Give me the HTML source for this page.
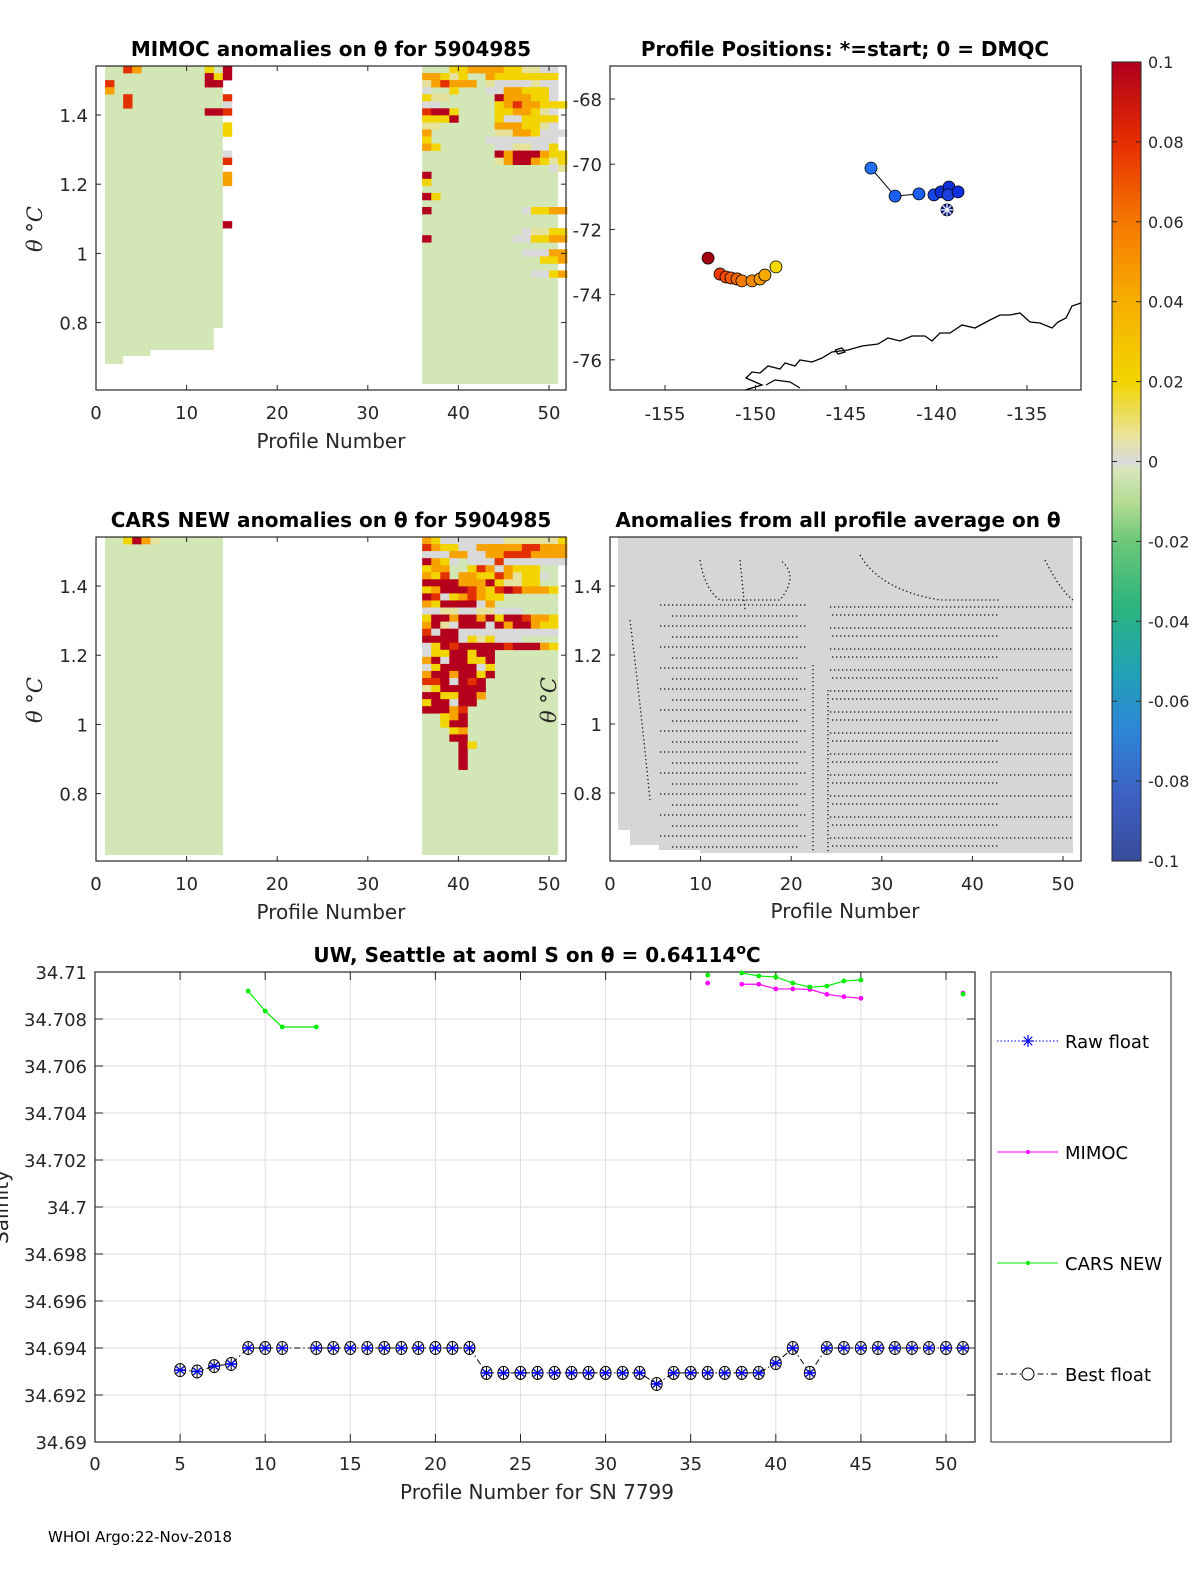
<!DOCTYPE html>
<html><head><meta charset="utf-8"><style>
body{margin:0;background:#fff;}
svg{display:block;font-family:"DejaVu Sans","Liberation Sans",sans-serif;}
.t{font-weight:bold;font-size:20px;}
.tk{font-size:18px;fill:#262626;}
</style></head><body>
<svg id="fig" width="1200" height="1575" viewBox="0 0 1200 1575" xmlns="http://www.w3.org/2000/svg">
<rect width="1200" height="1575" fill="#fff"/>
<g id="p1"></g>
<g id="p2"></g>
<g id="p3"></g>
<g id="p4"></g>
<g id="cb"></g>
<g id="p5"></g>
<text x="48" y="1542" font-size="15">WHOI Argo:22-Nov-2018</text>
</svg>
<script>
// ---------- data ----------
const profilesBest=[5,6,7,8,9,10,11,13,14,15,16,17,18,19,20,21,22,23,24,25,26,27,28,29,30,31,32,33,34,35,36,37,38,39,40,41,42,43,44,45,46,47,48,49,50,51];
const salBest=[34.69306,34.6930,34.69323,34.69332,34.694,34.694,34.694,34.694,34.694,34.694,34.694,34.694,34.694,34.694,34.694,34.694,34.694,34.69294,34.69294,34.69294,34.69294,34.69294,34.69294,34.69294,34.69294,34.69294,34.69294,34.69247,34.69294,34.69294,34.69294,34.69294,34.69294,34.69294,34.69336,34.694,34.69294,34.694,34.694,34.694,34.694,34.694,34.694,34.694,34.694,34.694];
const carsSeg1P=[9,10,11,13];
const carsSeg1V=[34.70919,34.70834,34.70766,34.70766];
const carsSeg2P=[38,39,40,41,42,43,44,45];
const carsSeg2V=[34.70996,34.70983,34.70979,34.70953,34.70936,34.7094,34.70962,34.70966];
const carsDotP=[36,51];
const carsDotV=[34.70987,34.70906];
const mimSegP=[38,39,40,41,42,43,44,45];
const mimSegV=[34.70948,34.70948,34.70928,34.70928,34.70926,34.70905,34.70895,34.70888];
const mimDotP=[36,51];
const mimDotV=[34.70953,34.70910];
const salTicks=[34.69,34.692,34.694,34.696,34.698,34.7,34.702,34.704,34.706,34.708,34.71];
const salTickLabels=["34.69","34.692","34.694","34.696","34.698","34.7","34.702","34.704","34.706","34.708","34.71"];
const profTicks=[0,5,10,15,20,25,30,35,40,45,50];
const panelXTicks=[0,10,20,30,40,50];
const thetaTicks=[0.8,1,1.2,1.4];
const thetaTickLabels=["0.8","1","1.2","1.4"];
const lonTicks=[-155,-150,-145,-140,-135];
const latTicks=[-68,-70,-72,-74,-76];
const mapLon=[-143.62,-142.29,-140.97,-140.14,-139.75,-139.31,-139.36,-138.81,-152.62,-151.96,-151.63,-151.35,-151.02,-150.75,-150.19,-149.75,-149.48,-148.87];
const mapLat=[-70.12,-70.98,-70.91,-70.94,-70.85,-70.70,-70.94,-70.85,-72.88,-73.37,-73.46,-73.49,-73.52,-73.58,-73.58,-73.52,-73.40,-73.15];
const mapCol=["#1f6ff0","#1a5ff0","#1a5ff0","#1648e8","#1030d8","#1030d8","#1a40e0","#1030e0","#a50010","#f03a00","#f54800","#f55a00","#f76800","#f77a00","#f78a00","#f79a00","#f7aa00","#f7d800"];
const startLon=-139.42, startLat=-71.40;
const cbTicks=[0.1,0.08,0.06,0.04,0.02,0,-0.02,-0.04,-0.06,-0.08,-0.1];
const cbLabels=["0.1","0.08","0.06","0.04","0.02","0","-0.02","-0.04","-0.06","-0.08","-0.1"];
const mimRows=["...yyooooyyeegg.","ooyey..oyyyyyyy.","eorooo.eggggegg.","g..y...ggooyyyg.","yee.....doooyyg.","gg......yorooyyy","rddy....yyooyeg.","yyyd....yggyyyy.","ee......oooyyeg.","o.......eeooyggg","y......gggggggg.","oy......ggeeggy.","........dodddoyy","........eoddoyey","..............ge","d...............","y...............","................","dy..............","................","d..........gyyoo","................","................","...........geeyy","d.........ggyyoo","................","...........gggoo",".............yyo","................","............ggyo"];
const mimLeft=[[3,0,'r'],[4,0,'o'],[12,0,'y'],[14,0,'d'],[12,1,'d'],[13,1,'y'],[14,1,'d'],[12,2,'d'],[13,2,'d'],[1,2,'r'],[1,3,'o'],[3,4,'r'],[3,5,'r'],[14,4,'r'],[14,5,'g'],[12,6,'d'],[13,6,'d'],[14,6,'r'],[14,8,'y'],[14,9,'y'],[14,12,'g'],[14,13,'r'],[14,15,'o'],[14,16,'o'],[14,22,'d']];
const carsRows=["oygggggggeeeeeey","royyggooooorrooo","gggooggoorrroooo","doyg.gggrggggggg","yoo..yrogoyyy...","oyr.ooyyroeyyg..","ddddooodyeeyy...","yodddroyrdroooy.","drgyoroyy.......","oyddddgo........","ggeeggeeggg.....","yddoddodyddrooy.","odegdddgdoddoyy.","rgddggggggggggg.","ddddgyeyggg.....","gydrdddddrdddoy.","gyyddydd........","odgddyyd........","gyddddgy........","oddoddyd........","rrdgdrd.........","eyddddd.........","ddyyddo.........","yddgdd..........","dddor...........","..yod...........","..ydd...........","...yo...........","...dd...........","....dy..........","....d...........","....d...........","....d..........."];
const carsLeft=[[3,0,'y'],[4,0,'d'],[5,0,'o'],[6,0,'e']];
const CMAP={y:"#f2d400",o:"#f7a200",r:"#e23000",d:"#b4001c",e:"#e6e29c",g:"#d9d9d9"};

const NS="http://www.w3.org/2000/svg";
function mk(parent,tag,attrs,txt){const e=document.createElementNS(NS,tag);for(const k in attrs)e.setAttribute(k,attrs[k]);if(txt!==undefined)e.textContent=txt;parent.appendChild(e);return e;}

function anomPanel(g,top,rows,left,title,leftBottom,rightBottom){
  const x0=96,x1=566,y0=top,y1=top+324;
  const xs=p=>96+p*9.06;
  const ty=t=>top+49-(t-1.4)*346;
  const cw=9.06,ch=7.05;
  const lb=mk(g,'polygon',{points:`${xs(1)},${y0} ${xs(14)},${y0} ${xs(14)},${leftBottom[0]} ${xs(13)},${leftBottom[0]} ${xs(13)},${leftBottom[1]} ${xs(6)},${leftBottom[1]} ${xs(6)},${leftBottom[2]} ${xs(3)},${leftBottom[2]} ${xs(3)},${leftBottom[3]} ${xs(1)},${leftBottom[3]}`,fill:"#d3e6b6"});
  
  
  const rb=mk(g,'rect',{x:xs(36),y:y0,width:xs(51)-xs(36),height:rightBottom-y0,fill:"#d3e6b6"});
  
  
  rows.forEach((row,i)=>{for(let j=0;j<row.length;j++){const c=row[j];if(c==='.')continue;
    const r=mk(g,'rect',{x:xs(36+j),y:y0+i*ch,width:cw+0.3,height:ch+0.3,fill:CMAP[c]});
    
    }});
  left.forEach(([p,i,c])=>{const r=mk(g,'rect',{x:xs(p),y:y0+i*ch,width:cw+0.3,height:ch+0.3,fill:CMAP[c]});
    
    });
  mk(g,'rect',{x:x0,y:y0,width:x1-x0,height:y1-y0,fill:"none",stroke:"#262626","stroke-width":1.2});
  panelXTicks.forEach(v=>{const x=xs(v);mk(g,'line',{x1:x,x2:x,y1:y1,y2:y1-5,stroke:"#262626"});mk(g,'line',{x1:x,x2:x,y1:y0,y2:y0+5,stroke:"#262626"});
    mk(g,'text',{x:x,y:y1+29,"text-anchor":"middle",class:"tk"},String(v));});
  thetaTicks.forEach((v,i)=>{const y=ty(v);mk(g,'line',{x1:x0,x2:x0+5,y1:y,y2:y,stroke:"#262626"});mk(g,'line',{x1:x1,x2:x1-5,y1:y,y2:y,stroke:"#262626"});
    mk(g,'text',{x:x0-8,y:y+7,"text-anchor":"end",class:"tk"},thetaTickLabels[i]);});
  const tt=mk(g,'text',{x:331,y:top-10,"text-anchor":"middle",class:"t"},title);
  
  
  const xl=mk(g,'text',{x:331,y:y1+58,"text-anchor":"middle","font-size":"20",fill:"#262626"},"Profile Number");
  
  
  const yl=mk(g,'text',{transform:`translate(42,${top+163}) rotate(-90)`,"text-anchor":"middle","font-size":"21","font-family":"DejaVu Serif","font-style":"italic",fill:"#262626"},"θ °C");
  
  
}
anomPanel(document.getElementById('p1'),66,mimRows,mimLeft,"MIMOC anomalies on θ  for 5904985",[328,350,356,364],384);
anomPanel(document.getElementById('p3'),537,carsRows,carsLeft,"CARS NEW anomalies on θ for 5904985",[855,855,855,855],855);

(function(){
  const g=document.getElementById('p2');
  const X=l=>665+(l+155)*18.1, Y=l=>99-(l+68)*32.6;
  const x0=610,x1=1081,y0=66,y1=390;
  mk(g,'polyline',{points:"1081,303 1072,306 1066,318 1058,322 1052,328 1040,323 1030,322 1020,313 1010,315 1000,315 990,320 975,328 962,325 950,333 940,333 932,341 925,336 912,336 900,341 888,338 878,344 862,346 848,350 832,352 822,358 812,362 800,360 795,366 785,363 780,369 768,366 760,373 752,372 746,378 762,385 745,390",fill:"none",stroke:"#000","stroke-width":1.3});
  mk(g,'polyline',{points:"835,350 842,348 845,352 838,354 835,350",fill:"none",stroke:"#000","stroke-width":1.2});
  mk(g,'polyline',{points:"766,385 775,380 790,382 800,388",fill:"none",stroke:"#000","stroke-width":1.2});
  mk(g,'polyline',{points:mapLon.slice(0,3).map((l,i)=>X(l)+','+Y(mapLat[i])).join(' '),fill:"none",stroke:"#000","stroke-width":1});
  mapLon.forEach((l,i)=>{const c=mk(g,'circle',{cx:X(l),cy:Y(mapLat[i]),r:6,fill:mapCol[i],stroke:"#000","stroke-width":0.8});
    
    });
  const sx=X(startLon),sy=Y(startLat);
  mk(g,'circle',{cx:sx,cy:sy,r:6,fill:"#0a1f90",stroke:"#000","stroke-width":0.8});
  for(let a=0;a<4;a++){const an=a*Math.PI/4;mk(g,'line',{x1:sx-6*Math.cos(an),y1:sy-6*Math.sin(an),x2:sx+6*Math.cos(an),y2:sy+6*Math.sin(an),stroke:"#fff","stroke-width":1.2});}
  mk(g,'rect',{x:x0,y:y0,width:x1-x0,height:y1-y0,fill:"none",stroke:"#262626","stroke-width":1.2});
  lonTicks.forEach(v=>{const x=X(v);mk(g,'line',{x1:x,x2:x,y1:y1,y2:y1-5,stroke:"#262626"});mk(g,'text',{x:x,y:y1+30,"text-anchor":"middle",class:"tk"},String(v));});
  latTicks.forEach(v=>{const y=Y(v);mk(g,'line',{x1:x0,x2:x0+5,y1:y,y2:y,stroke:"#262626"});mk(g,'text',{x:x0-8,y:y+7,"text-anchor":"end",class:"tk"},String(v));});
  const t=mk(g,'text',{x:845,y:56,"text-anchor":"middle",class:"t"},"Profile Positions: *=start; 0 = DMQC");
  
  
})();

(function(){
  const g=document.getElementById('p4');
  const x0=610,x1=1081,y0=537,y1=861;
  const xs=p=>610+p*9.06;
  mk(g,'polygon',{points:"618,537 1073,537 1073,853 700,853 700,850 659,850 659,845 630,845 630,830 618,830",fill:"#d6d6d6"});
  for(let y=605;y<=852;y+=21){
    mk(g,'line',{x1:660,x2:808,y1:y,y2:y,stroke:"#111","stroke-width":1.3,"stroke-dasharray":"1.3 2.7"});
    mk(g,'line',{x1:830,x2:1073,y1:y+2,y2:y+2,stroke:"#111","stroke-width":1.3,"stroke-dasharray":"1.3 2.7"});
    mk(g,'line',{x1:832,x2:1000,y1:y+10,y2:y+10,stroke:"#111","stroke-width":1.3,"stroke-dasharray":"1.3 2.7"});
    mk(g,'line',{x1:672,x2:800,y1:y+11,y2:y+11,stroke:"#111","stroke-width":1.3,"stroke-dasharray":"1.3 2.7"});
  }
  mk(g,'line',{x1:813,x2:813,y1:665,y2:853,stroke:"#111","stroke-width":1.3,"stroke-dasharray":"1.3 2.7"});
  mk(g,'line',{x1:828,x2:828,y1:690,y2:853,stroke:"#111","stroke-width":1.3,"stroke-dasharray":"1.3 2.7"});
  mk(g,'path',{d:"M700,560 Q705,590 720,600 L780,600 Q800,575 780,560 M740,560 L745,610 M860,555 Q880,590 940,600 L1000,600 M1045,560 Q1060,590 1073,600 M630,620 Q640,700 650,800",fill:"none",stroke:"#111","stroke-width":1.3,"stroke-dasharray":"1.3 2.7"});
  mk(g,'rect',{x:x0,y:y0,width:x1-x0,height:y1-y0,fill:"none",stroke:"#262626","stroke-width":1.2});
  panelXTicks.forEach(v=>{const x=xs(v);mk(g,'line',{x1:x,x2:x,y1:y1,y2:y1-5,stroke:"#262626"});mk(g,'text',{x:x,y:y1+29,"text-anchor":"middle",class:"tk"},String(v));});
  thetaTicks.forEach((v,i)=>{const y=586-(v-1.4)*345;mk(g,'line',{x1:x0,x2:x0+5,y1:y,y2:y,stroke:"#262626"});mk(g,'text',{x:x0-8,y:y+7,"text-anchor":"end",class:"tk"},thetaTickLabels[i]);});
  const t=mk(g,'text',{x:838,y:527,"text-anchor":"middle",class:"t"},"Anomalies from all profile average on θ");
  
  
  mk(g,'text',{x:845,y:918,"text-anchor":"middle","font-size":"20",fill:"#262626"},"Profile Number");
  mk(g,'text',{transform:"translate(556,700) rotate(-90)","text-anchor":"middle","font-size":"21","font-family":"DejaVu Serif","font-style":"italic",fill:"#262626"},"θ °C");
})();

(function(){
  const g=document.getElementById('cb');
  const defs=mk(g,'defs',{});
  const lg=mk(defs,'linearGradient',{id:"cbg",x1:0,y1:1,x2:0,y2:0});
  const stops=[[0,"#384c98"],[0.08,"#3d5fc2"],[0.16,"#2e84d8"],[0.24,"#20a3b4"],[0.32,"#2cb57c"],[0.4,"#6cc878"],[0.45,"#b5dc94"],[0.49,"#d6e6bc"],[0.5,"#d9d9d9"],[0.53,"#e8e3a0"],[0.6,"#f2d500"],[0.7,"#f6ae00"],[0.8,"#f67800"],[0.9,"#e62c00"],[1,"#b0001c"]];
  stops.forEach(([o,c])=>mk(lg,'stop',{offset:o,"stop-color":c}));
  mk(g,'rect',{x:1112,y:62,width:29,height:799,fill:"url(#cbg)",stroke:"#262626","stroke-width":1});
  cbTicks.forEach((v,i)=>{const y=62+(0.1-v)/0.2*799;mk(g,'line',{x1:1141,x2:1136,y1:y,y2:y,stroke:"#262626"});mk(g,'line',{x1:1112,x2:1117,y1:y,y2:y,stroke:"#262626"});
    mk(g,'text',{x:1148,y:y+6,"font-size":"16",fill:"#262626"},cbLabels[i]);});
})();

(function(){
  const g=document.getElementById('p5');
  const x0=95,x1=975,y0=972,y1=1442;
  const X=p=>95+p*17.02, Y=s=>1442-(s-34.69)/0.02*470;
  salTicks.forEach(v=>{const y=Y(v);mk(g,'line',{x1:x0,x2:x1,y1:y,y2:y,stroke:"#dedede"});});
  profTicks.forEach(v=>{const x=X(v);mk(g,'line',{x1:x,x2:x,y1:y0,y2:y1,stroke:"#dedede"});});
  mk(g,'rect',{x:x0,y:y0,width:x1-x0,height:y1-y0,fill:"none",stroke:"#262626","stroke-width":1.2});
  salTicks.forEach((v,i)=>{const y=Y(v);mk(g,'line',{x1:x0,x2:x0+8,y1:y,y2:y,stroke:"#262626"});mk(g,'line',{x1:x1,x2:x1-8,y1:y,y2:y,stroke:"#262626"});
    mk(g,'text',{x:x0-8,y:y+7,"text-anchor":"end",class:"tk"},salTickLabels[i]);});
  profTicks.forEach(v=>{const x=X(v);mk(g,'line',{x1:x,x2:x,y1:y1,y2:y1-8,stroke:"#262626"});mk(g,'line',{x1:x,x2:x,y1:y0,y2:y0+8,stroke:"#262626"});
    mk(g,'text',{x:x,y:y1+28,"text-anchor":"middle",class:"tk"},String(v));});
  const bl=mk(g,'polyline',{points:profilesBest.map((p,i)=>X(p)+','+Y(salBest[i])).join(' '),fill:"none",stroke:"#000","stroke-width":1,"stroke-dasharray":"6 3 1.5 3"});
  
  
  profilesBest.forEach((p,i)=>{const cx=X(p),cy=Y(salBest[i]);
    const m=mk(g,'g',{});
    
    
    mk(m,'ellipse',{cx:cx,cy:cy,rx:5.5,ry:6.5,fill:"none",stroke:"#000","stroke-width":1});
    mk(m,'line',{x1:cx,x2:cx,y1:cy-6,y2:cy+6,stroke:"#000","stroke-width":1});
    mk(m,'line',{x1:cx-5,x2:cx+5,y1:cy-4,y2:cy+4,stroke:"#000","stroke-width":0.8});
    mk(m,'line',{x1:cx-5,x2:cx+5,y1:cy+4,y2:cy-4,stroke:"#000","stroke-width":0.8});
    mk(m,'line',{x1:cx-5.5,x2:cx+5.5,y1:cy,y2:cy,stroke:"#0000ff","stroke-width":1.6});
    mk(m,'line',{x1:cx-3.5,x2:cx+3.5,y1:cy-3.5,y2:cy+3.5,stroke:"#0000ff","stroke-width":1.2});
    mk(m,'line',{x1:cx-3.5,x2:cx+3.5,y1:cy+3.5,y2:cy-3.5,stroke:"#0000ff","stroke-width":1.2});
  });
  function series(P,V,col,name){const l=mk(g,'polyline',{points:P.map((p,i)=>X(p)+','+Y(V[i])).join(' '),fill:"none",stroke:col,"stroke-width":1.2});
    
    
    dots(P,V,col,name);}
  function dots(P,V,col,name){P.forEach((p,i)=>{const c=mk(g,'circle',{cx:X(p),cy:Y(V[i]),r:2.4,fill:col});
      
      });}
  series(mimSegP,mimSegV,"#ff00ff","mimoc");
  dots(mimDotP,mimDotV,"#ff00ff","mimoc");
  series(carsSeg1P,carsSeg1V,"#00ee00","cars");
  series(carsSeg2P,carsSeg2V,"#00ee00","cars");
  dots(carsDotP,carsDotV,"#00ee00","cars");
  const t=mk(g,'text',{x:537,y:962,"text-anchor":"middle",class:"t"},"UW, Seattle at aoml S on θ = 0.64114");
  mk(t,'tspan',{dy:-8,"font-size":"14"},"o");
  mk(t,'tspan',{dy:8},"C");
  
  
  const xl=mk(g,'text',{x:537,y:1499,"text-anchor":"middle","font-size":"20",fill:"#262626"},"Profile Number for SN 7799");
  
  
  const yl=mk(g,'text',{transform:"translate(8,1207) rotate(-90)","text-anchor":"middle","font-size":"20",fill:"#262626"},"Salinity");
  
  
  const lg=mk(g,'g',{});
  
  
  mk(lg,'rect',{x:991,y:972,width:180,height:470,fill:"#fff",stroke:"#262626","stroke-width":1});
  const entries=[["Raw float",1041],["MIMOC",1152],["CARS NEW",1263],["Best float",1374]];
  entries.forEach(([n,y],k)=>{
    const e=mk(lg,'g',{});
    
    
    if(k===0){mk(e,'line',{x1:997,x2:1058,y1:y,y2:y,stroke:"#0000ff","stroke-dasharray":"1.5 2"});
      [0,45,90,135].forEach(a=>{const r=a*Math.PI/180;mk(e,'line',{x1:1028-6*Math.cos(r),y1:y-6*Math.sin(r),x2:1028+6*Math.cos(r),y2:y+6*Math.sin(r),stroke:"#0000ff","stroke-width":1.2});});}
    if(k===1){mk(e,'line',{x1:997,x2:1058,y1:y,y2:y,stroke:"#ff00ff"});mk(e,'circle',{cx:1028,cy:y,r:2,fill:"#ff00ff"});}
    if(k===2){mk(e,'line',{x1:997,x2:1058,y1:y,y2:y,stroke:"#00ee00"});mk(e,'circle',{cx:1028,cy:y,r:2,fill:"#00ee00"});}
    if(k===3){mk(e,'line',{x1:997,x2:1058,y1:y,y2:y,stroke:"#000","stroke-dasharray":"6 3 1.5 3"});mk(e,'circle',{cx:1028,cy:y,r:6,fill:"#fff",stroke:"#000"});}
    mk(e,'text',{x:1065,y:y+7,"font-size":"18",fill:"#000"},n);
  });
})();
</script>
</body></html>
